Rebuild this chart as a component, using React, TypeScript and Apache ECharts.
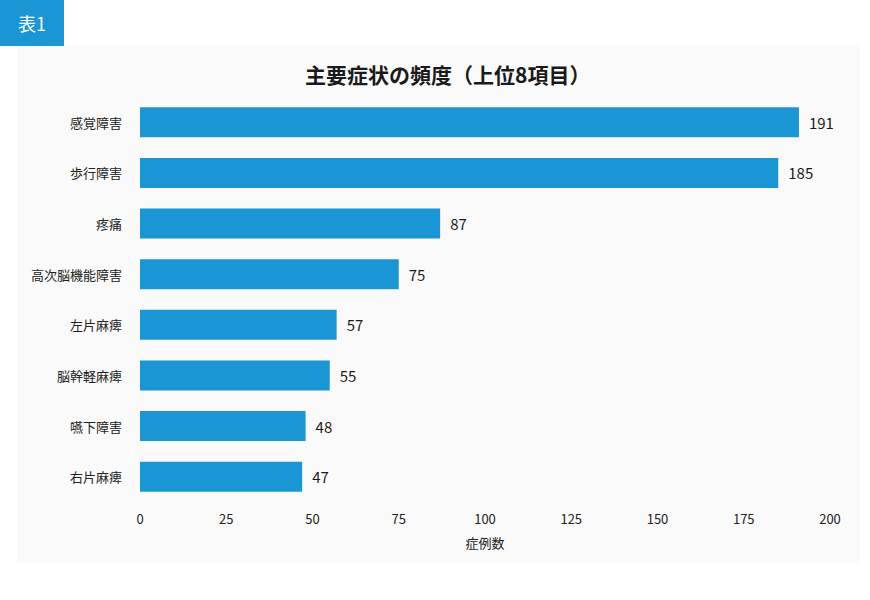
import React, { useEffect, useRef } from "react";
import * as echarts from "echarts";

// categories top → bottom
const symptoms = [
  "感覚障害",
  "歩行障害",
  "疼痛",
  "高次脳機能障害",
  "左片麻痺",
  "脳幹軽麻痺",
  "嚥下障害",
  "右片麻痺",
];
const caseCounts = [191, 185, 87, 75, 57, 55, 48, 47];
const xTicks = [0, 25, 50, 75, 100, 125, 150, 175, 200];

const BLUE = "#1a96d4";
const FONT = '"Noto Sans CJK JP", "Noto Sans", sans-serif';

const App: React.FC = () => {
  const chartRef = useRef<HTMLDivElement>(null);

  useEffect(() => {
    document.body.style.margin = "0";
    if (!chartRef.current) return;
    const chart = echarts.init(chartRef.current, undefined, { renderer: "svg" });

    const option: echarts.EChartsOption = {
      animation: false,
      backgroundColor: "#ffffff",
      textStyle: { fontFamily: FONT },
      title: {
        text: "主要症状の頻度（上位8項目）",
        left: 300,
        top: 58,
        textStyle: { fontSize: 21, fontWeight: "bold", color: "#1a1a1a", fontFamily: FONT },
      },
      graphic: [
        // light panel behind the chart
        {
          type: "rect",
          z: -10,
          shape: { x: 17, y: 45, width: 843, height: 518 },
          style: { fill: "#fafafa" },
          silent: true,
        },
        // "表1" tag
        {
          type: "rect",
          shape: { x: 0, y: 0, width: 64, height: 46 },
          style: { fill: BLUE },
          silent: true,
        },
        {
          type: "text",
          x: 32,
          y: 23,
          style: {
            text: "表1",
            fill: "#ffffff",
            fontSize: 18,
            fontFamily: FONT,
            align: "center",
            verticalAlign: "middle",
          },
          silent: true,
        },
      ],
      grid: { left: 140, right: 40, top: 97, bottom: 98, containLabel: false },
      xAxis: {
        type: "value",
        min: xTicks[0],
        max: xTicks[xTicks.length - 1],
        interval: 25,
        name: "症例数",
        nameLocation: "middle",
        nameGap: 34,
        nameTextStyle: { fontSize: 13, color: "#222", fontFamily: FONT },
        axisLabel: { fontSize: 13, color: "#222", margin: 10, fontFamily: FONT },
        axisLine: { show: false },
        axisTick: { show: false },
        splitLine: { show: false },
      },
      yAxis: {
        type: "category",
        inverse: true,
        data: symptoms,
        axisLabel: { fontSize: 13, color: "#222", margin: 18, fontFamily: FONT },
        axisLine: { show: false },
        axisTick: { show: false },
        splitLine: { show: false },
      },
      series: [
        {
          type: "bar",
          data: caseCounts,
          barWidth: 30,
          itemStyle: { color: BLUE },
          label: {
            show: true,
            position: "right",
            distance: 10,
            fontSize: 15,
            color: "#1a1a1a",
            fontFamily: FONT,
          },
        },
      ],
    };

    chart.setOption(option);
    return () => chart.dispose();
  }, []);

  return <div ref={chartRef} style={{ width: 870, height: 600 }} />;
};

export default App;
